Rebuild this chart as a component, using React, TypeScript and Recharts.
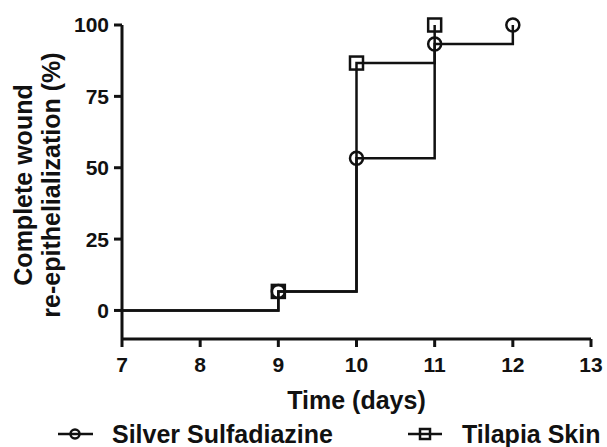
import { LineChart, Line, XAxis, YAxis } from "recharts";

// Kaplan–Meier style cumulative curves (percent healed by day)
const silverDays = [7, 9, 10, 11, 12];
const silverValues = [0, 6.67, 53.33, 93.33, 100];
const tilapiaDays = [7, 9, 10, 11];
const tilapiaValues = [0, 6.67, 86.67, 100];

const xTicks = [7, 8, 9, 10, 11, 12, 13];
const yTicks = [0, 25, 50, 75, 100];

const silverData = silverDays.map((day, i) => ({ day, pct: silverValues[i] }));
const tilapiaData = tilapiaDays.map((day, i) => ({ day, pct: tilapiaValues[i] }));

const FONT = '"Liberation Sans", Arial, sans-serif';
const INK = "#111";

const circleDot = (props: any) => {
  const { cx, cy, index } = props;
  if (index === 0) return <g key={`c-${index}`} />;
  return <circle key={`c-${index}`} cx={cx} cy={cy} r={6.5} fill="none" stroke={INK} strokeWidth={2.5} />;
};

const squareDot = (props: any) => {
  const { cx, cy, index } = props;
  if (index === 0) return <g key={`s-${index}`} />;
  return <rect key={`s-${index}`} x={cx - 6.5} y={cy - 6.5} width={13} height={13} fill="none" stroke={INK} strokeWidth={2.5} />;
};

// two-line rotated y-axis title
const YLabel = () => {
  const cy = 185;
  const style = { fontSize: 25, fontWeight: "bold" as const, fill: INK, fontFamily: FONT };
  return (
    <g>
      <text transform={`translate(32, ${cy}) rotate(-90)`} textAnchor="middle" {...style}>
        Complete wound
      </text>
      <text transform={`translate(60, ${cy}) rotate(-90)`} textAnchor="middle" {...style}>
        re-epithelialization (%)
      </text>
    </g>
  );
};

function LegendRow() {
  const text = { fontFamily: FONT, fontWeight: "bold" as const, fontSize: 25, fill: INK };
  return (
    <svg width={607} height={30} style={{ position: "absolute", left: 0, top: 419 }}>
      <line x1={58} y1={15} x2={93} y2={15} stroke={INK} strokeWidth={2.5} />
      <circle cx={75} cy={15} r={4.5} fill="none" stroke={INK} strokeWidth={2.5} />
      <text x={112} y={15} dominantBaseline="central" {...text}>Silver Sulfadiazine</text>
      <line x1={408} y1={15} x2={442} y2={15} stroke={INK} strokeWidth={2.5} />
      <rect x={420} y={10} width={10} height={10} fill="none" stroke={INK} strokeWidth={2.5} />
      <text x={462} y={15} dominantBaseline="central" {...text}>Tilapia Skin</text>
    </svg>
  );
}

export default function App() {
  const tick = { fill: INK, fontSize: 21, fontWeight: "bold", fontFamily: FONT };
  const axisLine = { stroke: INK, strokeWidth: 3 };
  return (
    <div style={{ position: "absolute", left: 0, top: 0, width: 607, height: 447, background: "#fff" }}>
      <LineChart width={607} height={447} margin={{ top: 25, right: 16, bottom: 32, left: 52 }}>
        <XAxis
          type="number"
          dataKey="day"
          domain={[7, 13]}
          ticks={xTicks}
          allowDuplicatedCategory={false}
          tick={tick}
          tickSize={8}
          tickMargin={10}
          axisLine={axisLine}
          tickLine={axisLine}
          height={76}
          label={{ value: "Time (days)", position: "insideBottom", offset: 6, style: { ...tick, fontSize: 25 } }}
        />
        <YAxis
          type="number"
          domain={[-10, 100]}
          ticks={yTicks}
          tick={tick}
          tickSize={8}
          tickMargin={5}
          axisLine={axisLine}
          tickLine={axisLine}
          width={70}
          label={<YLabel />}
        />
        <Line
          data={silverData}
          dataKey="pct"
          type="stepAfter"
          stroke={INK}
          strokeWidth={2.5}
          dot={circleDot}
          isAnimationActive={false}
        />
        <Line
          data={tilapiaData}
          dataKey="pct"
          type="stepAfter"
          stroke={INK}
          strokeWidth={2.5}
          dot={squareDot}
          isAnimationActive={false}
        />
      </LineChart>
      <LegendRow />
    </div>
  );
}
